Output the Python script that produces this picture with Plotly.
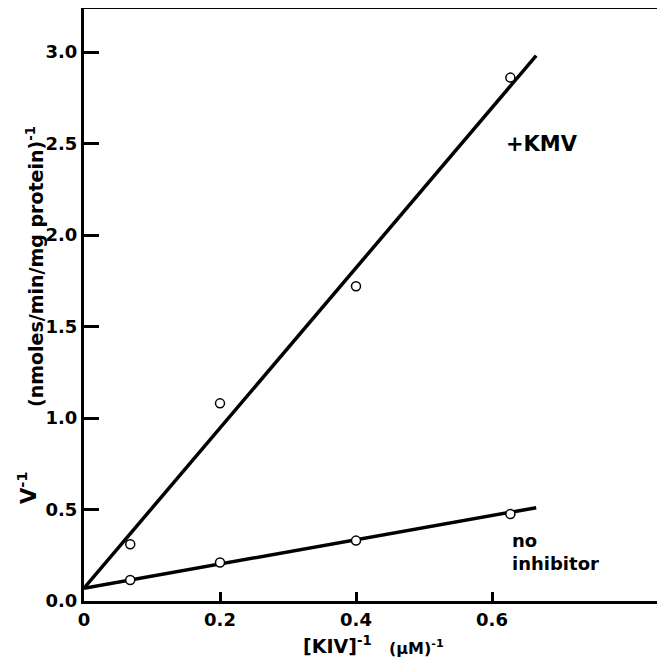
import plotly.graph_objects as go

# Data
x_points = [0.068, 0.2, 0.40, 0.627]
y_no_inhibitor = [0.115, 0.21, 0.33, 0.475]
y_kmv = [0.31, 1.08, 1.72, 2.86]

line_x = [0.0, 0.665]
line_no_inhibitor = [0.07, 0.51]
line_kmv = [0.07, 2.98]

x_tickvals = [0, 0.2, 0.4, 0.6]
x_ticktext = ["0", "0.2", "0.4", "0.6"]
y_tickvals = [0, 0.5, 1.0, 1.5, 2.0, 2.5, 3.0]
y_ticktext = ["0.0", "0.5", "1.0", "1.5", "2.0", "2.5", "3.0"]

# page body has an 8px margin, so the figure starts at (8, 8) on screen
OFF = 8
W, H = 665 - OFF, 662 - OFF
L, R, T, B = 84 - OFF, 0, 1, 61
pw, ph = W - L - R, H - T - B


def px(xs):
    return (xs - 84) / pw


def py(ys):
    return (601 - ys) / ph


LF = "DejaVu Sans"
fig = go.Figure()

fig.add_trace(go.Scatter(x=line_x, y=line_kmv, mode="lines",
                         line=dict(color="black", width=3.5), showlegend=False))
fig.add_trace(go.Scatter(x=line_x, y=line_no_inhibitor, mode="lines",
                         line=dict(color="black", width=3.5), showlegend=False))
fig.add_trace(go.Scatter(x=x_points, y=y_kmv, mode="markers",
                         marker=dict(symbol="circle", size=9, color="white",
                                     line=dict(color="black", width=1.5)),
                         showlegend=False))
fig.add_trace(go.Scatter(x=x_points, y=y_no_inhibitor, mode="markers",
                         marker=dict(symbol="circle", size=9, color="white",
                                     line=dict(color="black", width=1.5)),
                         showlegend=False))

fig.update_xaxes(range=[0, pw / 680], tickvals=x_tickvals,
                 ticktext=["<b>%s</b>" % t for t in x_ticktext],
                 ticks="inside", ticklen=9, tickwidth=3, tickcolor="black",
                 showline=True, linewidth=3, linecolor="black", mirror=True,
                 showgrid=False, zeroline=False, automargin=False,
                 tickfont=dict(family=LF, size=18, color="black"))
fig.update_yaxes(range=[0, ph / 183], tickvals=y_tickvals,
                 ticktext=["<b>%s</b>" % t for t in y_ticktext],
                 ticks="inside", ticklen=15, tickwidth=3, tickcolor="black",
                 showline=True, linewidth=3, linecolor="black",
                 showgrid=False, zeroline=False, automargin=False,
                 tickfont=dict(family=LF, size=18, color="black"))

ann = [
    dict(x=0.674, y=2.50, xref="x", yref="y", text="<b>+KMV</b>", showarrow=False,
         xanchor="center", yanchor="middle",
         font=dict(family=LF, size=21, color="black")),
    dict(x=0.626, y=0.268, xref="x", yref="y", text="<b>no<br>inhibitor</b>",
         showarrow=False, xanchor="left", yanchor="middle", align="left",
         font=dict(family=LF, size=18, color="black")),
    dict(x=px(337), y=py(645), xref="paper", yref="paper",
         text="<b>[KIV]<sup>-1</sup></b>", xanchor="center", yanchor="middle",
         showarrow=False, font=dict(family=LF, size=19, color="black")),
    dict(x=px(416), y=py(647), xref="paper", yref="paper",
         text="<b>(µM)<sup>-1</sup></b>", xanchor="center", yanchor="middle",
         showarrow=False, font=dict(family=LF, size=16, color="black")),
    dict(x=px(27), y=py(487), xref="paper", yref="paper", text="<b>V<sup>-1</sup></b>",
         textangle=-90, showarrow=False, xanchor="center", yanchor="middle",
         font=dict(family=LF, size=21, color="black")),
    dict(x=px(35), y=py(267), xref="paper", yref="paper",
         text="<b>(nmoles/min/mg protein)<sup>-1</sup></b>", textangle=-90,
         showarrow=False, xanchor="center", yanchor="middle",
         font=dict(family=LF, size=19, color="black")),
]
fig.update_layout(width=W, height=H, margin=dict(l=L, r=R, t=T, b=B),
                  plot_bgcolor="white", paper_bgcolor="white", annotations=ann)

fig.write_html("out.html")
